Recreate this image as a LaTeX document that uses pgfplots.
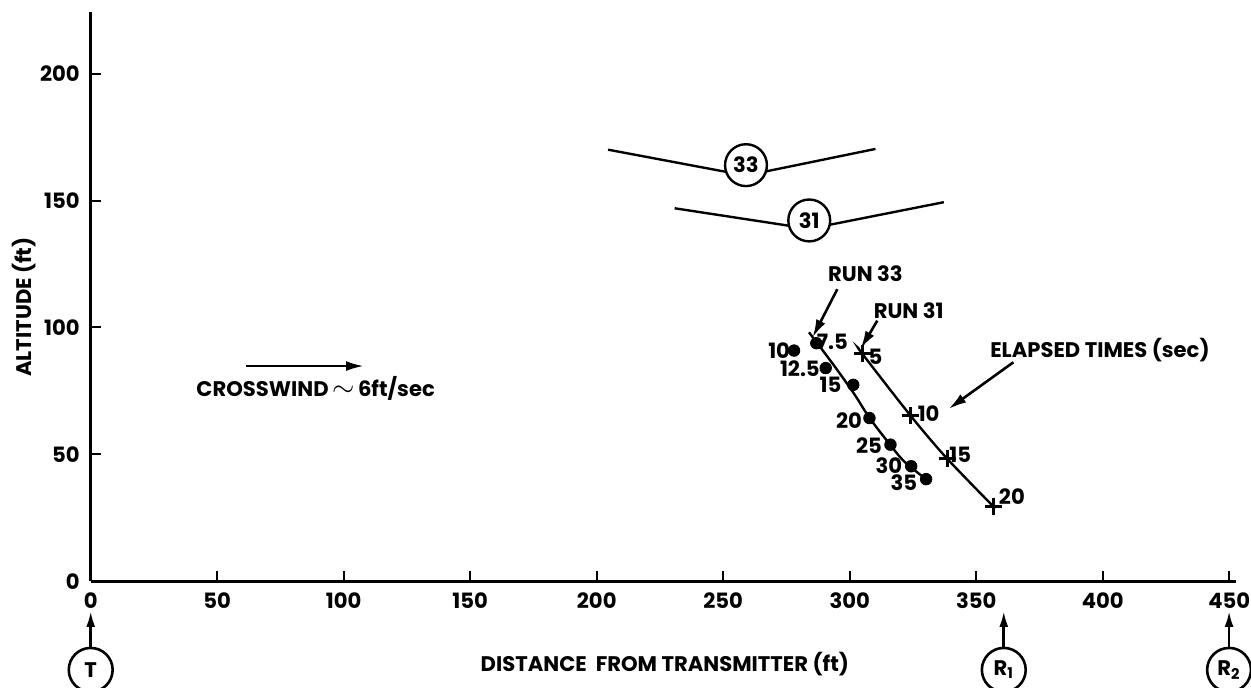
\documentclass[border=0pt]{standalone}
\usepackage{fontspec}
\setmainfont{Poppins}
\usepackage{pgfplots}
\pgfplotsset{compat=1.18}
\usetikzlibrary{arrows.meta}
\newcommand{\lbl}{\bfseries\fontsize{10.6}{12}\selectfont}
\begin{document}
\begin{tikzpicture}
\begin{axis}[
 scale only axis, width=574.5pt, height=285.5pt,
 at={(0pt,0pt)}, anchor=south west,
 xmin=0, xmax=452.7, ymin=0, ymax=224.4,
 axis x line=bottom, axis y line=left,
 axis line style={-, line width=1.5pt},
 xtick={0,50,...,450}, ytick={0,50,...,200},
 tick align=inside, major tick length=5pt,
 tick style={black, line width=1pt},
 ticklabel style={font=\lbl},
 /pgf/number format/assume math mode=true,
 xticklabel style={yshift=-2.5pt},
 yticklabel style={xshift=-2pt},
 xlabel={DISTANCE\ \ FROM TRANSMITTER (ft)},
 ylabel={ALTITUDE (ft)},
 label style={font=\lbl},
 xlabel style={at={(axis description cs:0.5013,-0.1454)}, anchor=center},
 ylabel style={at={(axis description cs:-0.0580,0.4816)}, anchor=center},
 clip=false,
]
% Run 33 fitted curve
\addplot[black, line width=1.2pt, smooth] coordinates {(283.9,98.1) (293.8,85.0) (301.7,73.9) (307.8,64.4) (316.1,53.6) (321.4,47.3) (328.6,41.4)};
% Run 33 points
\addplot[only marks, mark=*, mark size=2.9pt, black] coordinates {(278.0,90.9) (286.8,93.8) (290.5,84.0) (301.4,77.4) (307.8,64.3) (316.1,53.8) (324.3,45.3) (330.2,40.2)};
% Run 31 curve
\addplot[black, line width=1.2pt, smooth] coordinates {(303.7,91.6) (305,89.6) (324,65.3) (338.5,48.3) (357.5,28.7)};
% Run 31 points
\addplot[only marks, mark=+, mark size=4.3pt, line width=1.6pt, black] coordinates {(305,89.6) (324,65.3) (338.5,48.3) (356.9,29.4)};
% trajectories
\addplot[black, line width=1.2pt] coordinates {(204.5,170.1) (258.9,159.9) (310.2,170.4)};
\addplot[black, line width=1.2pt] coordinates {(230.8,147.0) (284.0,138.9) (337.2,149.4)};

\node[circle, draw, fill=white, line width=1.2pt, minimum size=21pt, inner sep=0pt, font=\lbl] at (axis cs:259,164) {33};
\node[circle, draw, fill=white, line width=1.2pt, minimum size=21pt, inner sep=0pt, font=\lbl] at (axis cs:284,142.2) {31};

% point labels
\begin{scope}[every node/.style={font=\lbl, inner sep=0pt}]
\node at (axis cs:272.1,90.9) {10};
\node at (axis cs:293.1,94.3) {7.5};
\node at (axis cs:280.3,83.7) {12.5};
\node at (axis cs:292.4,77.4) {15};
\node at (axis cs:299.7,63.4) {20};
\node at (axis cs:307.6,53.6) {25};
\node at (axis cs:315.5,45.5) {30};
\node at (axis cs:321.4,38.9) {35};
\node at (axis cs:310.2,88.3) {5};
\node at (axis cs:331.2,66.0) {10};
\node at (axis cs:343.7,49.9) {15};
\node at (axis cs:364.1,33.3) {20};
\node at (axis cs:306.2,121.2) {RUN 33};
\node at (axis cs:323.3,106.6) {RUN 31};
\node at (axis cs:398.9,91.1) {ELAPSED TIMES (sec)};
\node at (axis cs:88.9,75.9) {CROSSWIND\,{\Large$\sim$}\,6ft/sec};
\end{scope}
\begin{scope}[line width=1.3pt, -{Latex[length=9pt,width=5pt]}]
\draw (axis cs:295.1,115.1) -- (axis cs:285.3,96.1);
\draw (axis cs:310.9,102.7) -- (axis cs:304.3,91.6);
\draw (axis cs:364.7,86.3) -- (axis cs:339.1,67.9);
\draw (axis cs:61.4,84.8) -- (axis cs:108.0,84.8);
\end{scope}
\end{axis}
\begin{scope}[line width=1.3pt]
\draw[-{Latex[length=8pt,width=4.5pt]}] (0pt,-33.5pt) -- (0pt,-15pt);
\draw[-{Latex[length=8pt,width=4.5pt]}] (458pt,-33.5pt) -- (458pt,-15pt);
\draw[-{Latex[length=8pt,width=4.5pt]}] (571pt,-33.5pt) -- (571pt,-15pt);
\node[circle, draw, minimum size=22pt, inner sep=0pt, font=\lbl] at (0pt,-44.5pt) {T};
\node[circle, draw, minimum size=22pt, inner sep=0pt, font=\lbl] at (458pt,-44.5pt) {R\textsubscript{1}};
\node[circle, draw, minimum size=22pt, inner sep=0pt, font=\lbl] at (571pt,-44.5pt) {R\textsubscript{2}};
\end{scope}
\pgfresetboundingbox
\path (-45.5pt,-53.5pt) rectangle (582pt,291.5pt);
\end{tikzpicture}
\end{document}
